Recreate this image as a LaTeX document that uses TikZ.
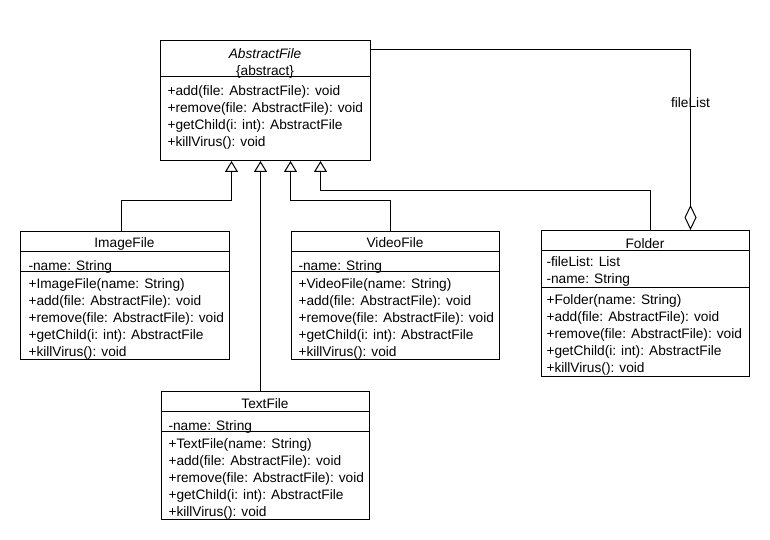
\documentclass[tikz,border=0pt]{standalone}
\usepackage{fontspec}
\setmainfont{Liberation Sans}
\usetikzlibrary{arrows.meta}

\begin{document}
\begin{tikzpicture}[x=1pt, y=-1pt, line width=1pt,
        every node/.style={font=\fontsize{13.7}{17}\selectfont},
        classbox/.style={draw, fill=white, anchor=north west, inner sep=0pt},
        members/.style={anchor=north west, inner sep=0pt, align=left, execute at begin node=\rule{0pt}{13pt}},
        classname/.style={anchor=base, inner sep=0pt},
        inherit/.style={-{Triangle[open, length=11pt, width=13pt]}},
        aggr/.style={-{Diamond[open, length=25pt, width=12pt]}}]
        \useasboundingbox (0,0) rectangle (770,540);
        % AbstractFile
        \node[classbox, minimum width=210pt, minimum height=120pt] (abs) at (160,40) {};
        \node[members, anchor=north, align=center] (abs-name) at (265,48) {\textit{AbstractFile}\\\{abstract\}};
        \draw ([yshift=-37pt]abs.north west) -- ([yshift=-37pt]abs.north east);
        \node[members] (abs-ops) at (167,85) {+add(file: AbstractFile): void\\+remove(file: AbstractFile): void\\+getChild(i: int): AbstractFile\\+killVirus(): void};
        % ImageFile
        \node[classbox, minimum width=209pt, minimum height=128pt] (img) at (20,231) {};
        \node[classname] (img-name) at (124.5,247) {ImageFile};
        \draw ([yshift=-20pt]img.north west) -- ([yshift=-20pt]img.north east);
        \draw ([yshift=-40pt]img.north west) -- ([yshift=-40pt]img.north east);
        \node[members] (img-attr) at (28,257) {-name: String};
        \node[members] (img-ops) at (28,278) {+ImageFile(name: String)\\+add(file: AbstractFile): void\\+remove(file: AbstractFile): void\\+getChild(i: int): AbstractFile\\+killVirus(): void};
        % VideoFile
        \node[classbox, minimum width=208pt, minimum height=128pt] (vid) at (291,231) {};
        \node[classname] (vid-name) at (395,247) {VideoFile};
        \draw ([yshift=-20pt]vid.north west) -- ([yshift=-20pt]vid.north east);
        \draw ([yshift=-40pt]vid.north west) -- ([yshift=-40pt]vid.north east);
        \node[members] (vid-attr) at (298,257) {-name: String};
        \node[members] (vid-ops) at (298,278) {+VideoFile(name: String)\\+add(file: AbstractFile): void\\+remove(file: AbstractFile): void\\+getChild(i: int): AbstractFile\\+killVirus(): void};
        % TextFile
        \node[classbox, minimum width=208pt, minimum height=128pt] (txt) at (161,391) {};
        \node[classname] (txt-name) at (265,408) {TextFile};
        \draw ([yshift=-20pt]txt.north west) -- ([yshift=-20pt]txt.north east);
        \draw ([yshift=-40pt]txt.north west) -- ([yshift=-40pt]txt.north east);
        \node[members] (txt-attr) at (168,417) {-name: String};
        \node[members] (txt-ops) at (168,438) {+TextFile(name: String)\\+add(file: AbstractFile): void\\+remove(file: AbstractFile): void\\+getChild(i: int): AbstractFile\\+killVirus(): void};
        % Folder
        \node[classbox, minimum width=208pt, minimum height=146pt] (fol) at (541,230) {};
        \node[classname] (fol-name) at (645,248) {Folder};
        \draw ([yshift=-20pt]fol.north west) -- ([yshift=-20pt]fol.north east);
        \draw ([yshift=-57pt]fol.north west) -- ([yshift=-57pt]fol.north east);
        \node[members] (fol-attr) at (546,256) {-fileList: List\\-name: String};
        \node[members] (fol-ops) at (546,294) {+Folder(name: String)\\+add(file: AbstractFile): void\\+remove(file: AbstractFile): void\\+getChild(i: int): AbstractFile\\+killVirus(): void};
        % generalisations
        \draw[inherit] ([xshift=-4pt]img.north) -- ++(0,-31) -| ([xshift=-34pt]abs.south);
        \draw[inherit] ([xshift=-5pt]txt.north) -- ([xshift=-5pt]abs.south);
        \draw[inherit] ([xshift=-5pt]vid.north) -- ++(0,-31) -| ([xshift=25pt]abs.south);
        \draw[inherit] ([xshift=5pt]fol.north) -- ++(0,-40) -| ([xshift=55pt]abs.south);
        % aggregation
        \draw[aggr] ([yshift=-10pt]abs.north east) -| node[pos=0.647, inner sep=0pt] (fl) {fileList} ([xshift=45pt]fol.north);
    \end{tikzpicture}
\end{document}
